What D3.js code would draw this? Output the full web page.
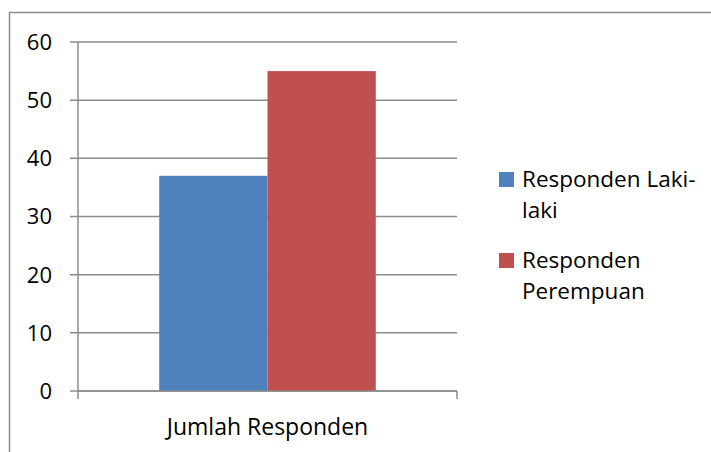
<!DOCTYPE html>
<html>
<head>
<meta charset="utf-8">
<script src="https://cdn.jsdelivr.net/npm/d3@7"></script>
<style>
  body { margin: 0; background: #fff; overflow: hidden; }
  text { font-family: "Open Sans", "Noto Sans", sans-serif; fill: #000; }
</style>
</head>
<body>
<div id="chart"></div>
<script>
'use strict';

const categories = ['Jumlah Responden'];
const seriesNames = ['Responden Laki-laki', 'Responden Perempuan'];
const seriesValues = [[37], [55]];
const legendLines = [['Responden Laki-', 'laki'], ['Responden', 'Perempuan']];
const yTicks = [0, 10, 20, 30, 40, 50, 60];
const colors = ['#4F81BD', '#C0504D'];

const width = 711;
const height = 452;
const margin = {top: 42, left: 78, right: 254, bottom: 61};

const svg = d3.select('#chart')
  .append('svg')
  .attr('width', width)
  .attr('height', height)
  .style('display', 'block');

// outer chart border (right and bottom edges fall outside the picture)
svg.append('rect')
  .attr('x', 9.5).attr('y', 12.5)
  .attr('width', 720).attr('height', 460)
  .attr('fill', 'none')
  .attr('stroke', '#8c8c8c')
  .attr('stroke-width', 1.5);

const x = d3.scaleBand()
  .domain(categories)
  .range([margin.left, width - margin.right]);

const xSeries = d3.scaleBand()
  .domain(seriesNames)
  .range([0, x.bandwidth()])
  .paddingOuter(0.75);

const y = d3.scaleLinear()
  .domain([0, 60])
  .range([height - margin.bottom, margin.top]);

// gridlines + y ticks
svg.append('g')
  .selectAll('line')
  .data(yTicks)
  .enter()
  .append('line')
  .attr('x1', margin.left - 8)
  .attr('x2', width - margin.right)
  .attr('y1', d => y(d))
  .attr('y2', d => y(d))
  .attr('stroke', '#8c8c8c')
  .attr('stroke-width', 1.5);

svg.append('g')
  .selectAll('text')
  .data(yTicks)
  .enter()
  .append('text')
  .attr('x', 52)
  .attr('y', d => y(d))
  .attr('dy', '0.36em')
  .attr('text-anchor', 'end')
  .attr('font-size', 22)
  .text(d => d);

// bars
categories.forEach((cat, ci) => {
  svg.append('g')
    .selectAll('rect')
    .data(seriesNames)
    .enter()
    .append('rect')
    .attr('x', s => x(cat) + xSeries(s))
    .attr('width', xSeries.bandwidth())
    .attr('y', (s, si) => y(seriesValues[si][ci]))
    .attr('height', (s, si) => y(0) - y(seriesValues[si][ci]))
    .attr('fill', (s, si) => colors[si]);
});

// y axis line
svg.append('line')
  .attr('x1', margin.left).attr('x2', margin.left)
  .attr('y1', y(60)).attr('y2', y(0) + 8)
  .attr('stroke', '#8c8c8c')
  .attr('stroke-width', 1.5);

// x axis line and category boundary tick
svg.append('line')
  .attr('x1', margin.left).attr('x2', width - margin.right)
  .attr('y1', y(0)).attr('y2', y(0))
  .attr('stroke', '#8c8c8c')
  .attr('stroke-width', 1.5);

svg.append('line')
  .attr('x1', width - margin.right).attr('x2', width - margin.right)
  .attr('y1', y(0)).attr('y2', y(0) + 8)
  .attr('stroke', '#8c8c8c')
  .attr('stroke-width', 1.5);

svg.append('g')
  .selectAll('text')
  .data(categories)
  .enter()
  .append('text')
  .attr('x', d => x(d) + x.bandwidth() / 2)
  .attr('y', 435)
  .attr('text-anchor', 'middle')
  .attr('font-size', 23)
  .text(d => d);

// legend
const legend = svg.append('g')
  .selectAll('g')
  .data(seriesNames)
  .enter()
  .append('g')
  .attr('transform', (d, i) => `translate(499, ${172 + i * 81})`);

legend.append('rect')
  .attr('width', 15)
  .attr('height', 15)
  .attr('fill', (d, i) => colors[i]);

legend.append('text')
  .attr('x', 23)
  .attr('y', 15)
  .attr('font-size', 22.5)
  .selectAll('tspan')
  .data((d, i) => legendLines[i])
  .enter()
  .append('tspan')
  .attr('x', 23)
  .attr('dy', (d, j) => j === 0 ? 0 : 31)
  .text(d => d);
</script>
</body>
</html>
